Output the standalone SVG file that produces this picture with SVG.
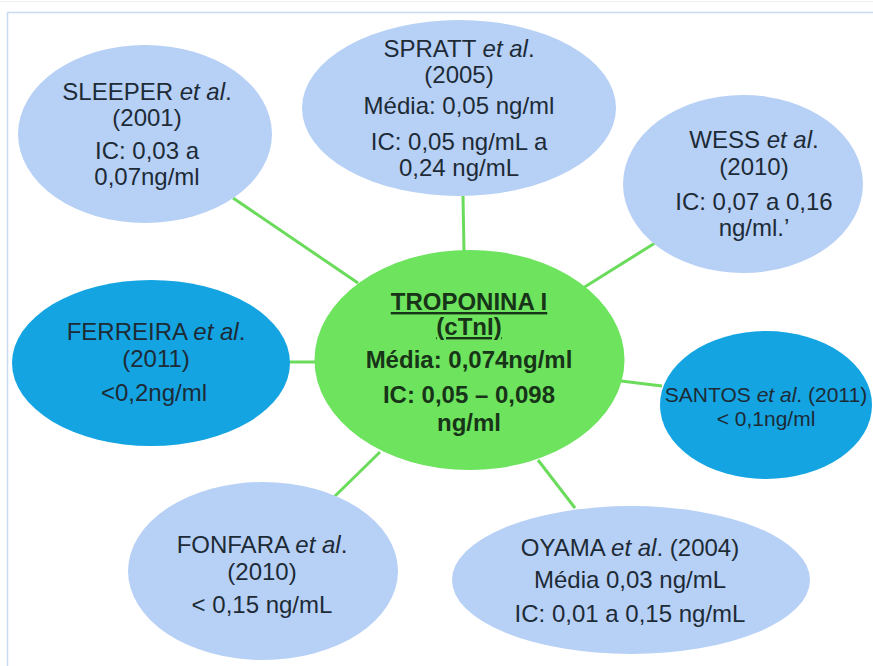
<svg xmlns="http://www.w3.org/2000/svg" width="873" height="666" viewBox="0 0 873 666">
<style>
.t{font-family:"Liberation Sans",Arial,sans-serif;font-size:24px;fill:#1d2b36;text-anchor:middle}
.c{font-family:"Liberation Sans",Arial,sans-serif;font-size:24px;font-weight:bold;fill:#183418;text-anchor:middle}
.lb{fill:#b7d0f6}
.db{fill:#14a4e2}
.i{font-style:italic}
.con line{stroke:#6bdb5c;stroke-width:3}
</style>
<rect x="0" y="0" width="873" height="666" fill="#ffffff"/>
<line x1="0" y1="1.5" x2="873" y2="1.5" stroke="#eef0f2" stroke-width="1"/>
<path d="M7.5 666 V12.5 H873" fill="none" stroke="#c8dbf3" stroke-width="1.5"/>
<g id="connectors" class="con">
<line x1="233" y1="198" x2="358" y2="283"/>
<line x1="463" y1="196" x2="464" y2="252"/>
<line x1="655" y1="243" x2="583" y2="288"/>
<line x1="288" y1="362" x2="318" y2="362"/>
<line x1="621" y1="381" x2="662" y2="386"/>
<line x1="380" y1="452" x2="333" y2="498"/>
<line x1="538" y1="460" x2="575" y2="508"/>
</g>
<g id="sleeper">
<ellipse class="lb" cx="145" cy="134" rx="127" ry="89"/>
<text class="t" x="147" y="100">SLEEPER <tspan class="i">et al</tspan>.</text>
<text class="t" x="147" y="126">(2001)</text>
<text class="t" x="147" y="159">IC: 0,03 a</text>
<text class="t" x="147" y="185">0,07ng/ml</text>
</g>
<g id="spratt">
<ellipse class="lb" cx="459" cy="108" rx="157" ry="88"/>
<text class="t" x="459" y="57">SPRATT <tspan class="i">et al</tspan>.</text>
<text class="t" x="459" y="83">(2005)</text>
<text class="t" x="459" y="114">Média: 0,05 ng/ml</text>
<text class="t" x="459" y="150">IC: 0,05 ng/mL a</text>
<text class="t" x="459" y="176">0,24 ng/mL</text>
</g>
<g id="wess">
<ellipse class="lb" cx="743" cy="184" rx="120" ry="89"/>
<text class="t" x="754" y="148">WESS <tspan class="i">et al</tspan>.</text>
<text class="t" x="754" y="175">(2010)</text>
<text class="t" x="754" y="210">IC: 0,07 a 0,16</text>
<text class="t" x="754" y="236">ng/ml.’</text>
</g>
<g id="ferreira">
<ellipse class="db" cx="151" cy="363" rx="139" ry="83"/>
<text class="t" x="156" y="340">FERREIRA <tspan class="i">et al</tspan>.</text>
<text class="t" x="156" y="367">(2011)</text>
<text class="t" x="154" y="401">&lt;0,2ng/ml</text>
</g>
<g id="santos">
<ellipse class="db" cx="766" cy="405" rx="106" ry="74"/>
<text class="t" x="766" y="402" style="font-size:21px">SANTOS <tspan class="i">et al</tspan>. (2011)</text>
<text class="t" x="766" y="426" style="font-size:21px">&lt; 0,1ng/ml</text>
</g>
<g id="fonfara">
<ellipse class="lb" cx="263" cy="571" rx="135" ry="89"/>
<text class="t" x="262" y="553">FONFARA <tspan class="i">et al</tspan>.</text>
<text class="t" x="262" y="580">(2010)</text>
<text class="t" x="262" y="613">&lt; 0,15 ng/mL</text>
</g>
<g id="oyama">
<ellipse class="lb" cx="631" cy="580" rx="179" ry="74"/>
<text class="t" x="630" y="556">OYAMA <tspan class="i">et al</tspan>. (2004)</text>
<text class="t" x="630" y="588">Média 0,03 ng/mL</text>
<text class="t" x="630" y="622">IC: 0,01 a 0,15 ng/mL</text>
</g>
<g id="troponina">
<ellipse cx="469.5" cy="360" rx="155" ry="110" fill="#6de35e"/>
<text class="c" x="469" y="310" text-decoration="underline">TROPONINA I</text>
<text class="c" x="469" y="335" text-decoration="underline">(cTnI)</text>
<text class="c" x="469" y="368">Média: 0,074ng/ml</text>
<text class="c" x="469" y="403">IC: 0,05 – 0,098</text>
<text class="c" x="469" y="431">ng/ml</text>
</g>
</svg>
